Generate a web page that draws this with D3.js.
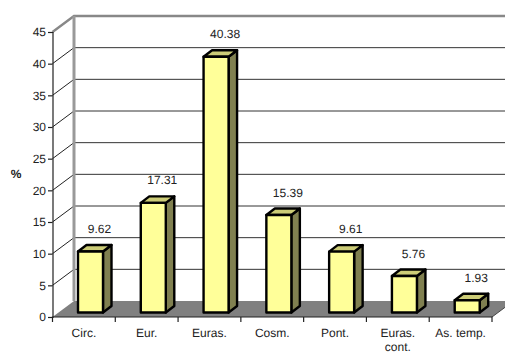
<!DOCTYPE html>
<html><head><meta charset="utf-8">
<script src="https://cdnjs.cloudflare.com/ajax/libs/d3/7.8.5/d3.min.js"></script>
<style>html,body{margin:0;padding:0;background:#fff;overflow:hidden}text{font-family:"Liberation Sans",Arial,sans-serif;fill:#222;text-rendering:geometricPrecision}</style>
</head><body><div id="c"></div>
<script>
(function(){
const categories=["Circ.","Eur.","Euras.","Cosm.","Pont.","Euras. cont.","As. temp."];
const values=[9.62,17.31,40.38,15.39,9.61,5.76,1.93];
const yTicks=[0,5,10,15,20,25,30,35,40,45];

const W=505,H=354;
const svg=d3.select("#c").append("svg").attr("width",W).attr("height",H).style("display","block");
const x=d3.scaleBand().domain(categories).range([52.5,492]).paddingInner(0).paddingOuter(0);
const y=d3.scaleLinear().domain([0,45]).range([317,32]);
const dx=21.5,dy=16;
const fs=12;

// floor
svg.append("polygon").attr("fill","#808080")
 .attr("points",[[x.range()[0],y(0)],[x.range()[0]+dx,y(0)-dy],[x.range()[1]+dx,y(0)-dy],[x.range()[1],y(0)]].join(" "));

// grid
const inner=yTicks.filter(t=>t>0&&t<45);
svg.selectAll(".gb").data(inner).join("line").attr("class","gb").attr("x1",x.range()[0]+dx).attr("x2",x.range()[1]+dx)
 .attr("y1",d=>y(d)-dy).attr("y2",d=>y(d)-dy).attr("stroke","#333").attr("stroke-width",1);
svg.selectAll(".gs").data(inner).join("line").attr("class","gs").attr("x1",x.range()[0]).attr("x2",x.range()[0]+dx)
 .attr("y1",d=>y(d)).attr("y2",d=>y(d)-dy).attr("stroke","#222").attr("stroke-width",1);

// walls
svg.append("path").attr("fill","none").attr("stroke","#888").attr("stroke-width",2.4)
 .attr("d",d3.line()([[x.range()[0],y(45)],[x.range()[0]+dx,y(45)-dy],[x.range()[1]+dx,y(45)-dy]]));
svg.append("line").attr("x1",x.range()[0]+dx).attr("x2",x.range()[0]+dx).attr("y1",y(45)-dy).attr("y2",y(0)-dy)
 .attr("stroke","#999").attr("stroke-width",3);
svg.append("line").attr("x1",x.range()[1]).attr("x2",x.range()[1]+dx).attr("y1",y(0)).attr("y2",y(0)-dy).attr("stroke","#444");

// bars
const bw=25,bdx=8.5,bdy=6.5,off=4.5;
const g=svg.selectAll(".bar").data(values).join("g").attr("class","bar");
const left=(d,i)=>x(categories[i])+25.5;
const base=y(0)-off;
const topY=d=>y(d)-off;
const sw=2.4;
g.append("polygon").attr("fill","#808050").attr("stroke","#000").attr("stroke-width",sw).attr("stroke-linejoin","round")
 .attr("points",(d,i)=>{const l=left(d,i)+bw;return [[l,topY(d)],[l+bdx,topY(d)-bdy],[l+bdx,base-bdy],[l,base]].join(" ")});
g.append("polygon").attr("fill","#cccc77").attr("stroke","#000").attr("stroke-width",sw).attr("stroke-linejoin","round")
 .attr("points",(d,i)=>{const l=left(d,i);return [[l,topY(d)],[l+bdx,topY(d)-bdy],[l+bw+bdx,topY(d)-bdy],[l+bw,topY(d)]].join(" ")});
g.append("rect").attr("fill","#ffff99").attr("stroke","#000").attr("stroke-width",sw).attr("stroke-linejoin","round")
 .attr("x",left).attr("y",d=>topY(d)).attr("width",bw).attr("height",d=>base-topY(d));

// value labels
svg.selectAll(".vl").data(values).join("text").attr("class","vl").attr("text-anchor","middle")
 .attr("font-size",fs).attr("x",(d,i)=>left(d,i)+21.5).attr("y",d=>topY(d)-bdy-12).text(d=>d.toFixed(2));

// axes
const yAxis=d3.axisLeft(y).tickValues(yTicks).tickSize(4.5).tickPadding(2);
const ya=svg.append("g").attr("transform",`translate(${x.range()[0]},0)`).call(yAxis);
ya.attr("font-family",null);
ya.selectAll("text").attr("font-size",fs);
ya.selectAll("line,path").attr("stroke","#222").attr("stroke-width",1.2);

const xAxis=d3.axisBottom(x).tickSize(0).tickPadding(0).tickFormat("");
const xa=svg.append("g").attr("transform",`translate(0,${y(0)})`).call(xAxis);
xa.selectAll(".tick").remove();
xa.select("path").attr("stroke","#222").attr("stroke-width",1.2).attr("d",`M${x.range()[0]},5V0H${x.range()[1]}V5`);
svg.selectAll(".xt").data(categories.slice(0,-1)).join("line").attr("class","xt").attr("x1",d=>x(d)+x.bandwidth()).attr("x2",d=>x(d)+x.bandwidth())
 .attr("y1",y(0)).attr("y2",y(0)+5).attr("stroke","#222").attr("stroke-width",1.2);

const lab=svg.selectAll(".xl").data(categories).join("text").attr("class","xl").attr("text-anchor","middle").attr("font-size",fs)
 .attr("y",337);
lab.each(function(d){
  const t=d3.select(this), cx=x(d)+x.bandwidth()/2;
  const parts=d==="Euras. cont."?["Euras.","cont."]:[d];
  parts.forEach((p,i)=>t.append("tspan").attr("x",cx).attr("dy",i?14:0).text(p));
});

svg.append("text").attr("x",16).attr("y",178).attr("text-anchor","middle").attr("font-size",fs).attr("font-weight","bold").text("%");
})();
</script></body></html>
